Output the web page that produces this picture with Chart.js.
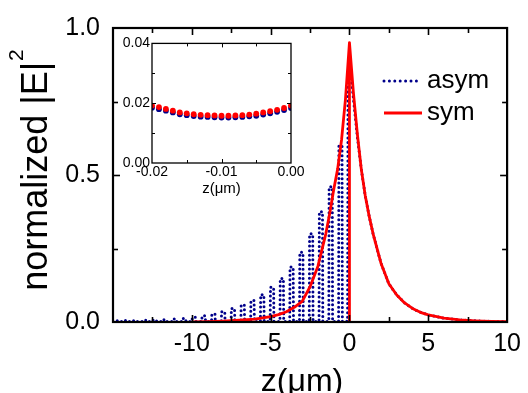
<!DOCTYPE html>
<html>
<head>
<meta charset="utf-8">
<script src="https://cdn.jsdelivr.net/npm/chart.js@4/dist/chart.umd.min.js"></script>
<style>
html,body{margin:0;padding:0;background:#fff;}
#wrap{position:relative;width:528px;height:393px;overflow:hidden;}
#main{position:absolute;left:0;top:0;}
#inset{position:absolute;left:110px;top:33px;}
</style>
</head>
<body>
<div id="wrap">
<canvas id="main" width="528" height="393"></canvas>
<canvas id="inset" width="205" height="165"></canvas>
</div>
<script>
// ---- main chart data ----
const symZ = [-10, -9, -8, -7, -6, -5, -4.5, -4, -3.5, -3, -2.5, -2, -1.5, -1.25, -1, -0.75, -0.5, -0.25, 0, 0, 0,
  0.25, 0.5, 0.75, 1, 1.25, 1.5, 2, 2.5, 3, 3.5, 4, 4.5, 5, 6, 7, 8, 9, 10];
const symV = [0.0, 0.001, 0.003, 0.006, 0.01, 0.018, 0.025, 0.035, 0.05, 0.07, 0.12, 0.19, 0.30, 0.37, 0.45, 0.52, 0.62, 0.76, 0.95, 0.0, 0.95,
  0.78, 0.64, 0.52, 0.43, 0.36, 0.30, 0.20, 0.13, 0.092, 0.065, 0.046, 0.033, 0.024, 0.013, 0.007, 0.004, 0.002, 0.001];

const asymZ = [-15,
  -14.95, -14.93, -14.73, -14.71,  -14.33, -14.31, -14.11, -14.09,
  -13.71, -13.69, -13.49, -13.47,  -13.09, -13.07, -12.87, -12.85,
  -12.47, -12.45, -12.25, -12.23,  -11.85, -11.83, -11.63, -11.61,
  -11.23, -11.21, -11.01, -10.99,  -10.61, -10.59, -10.39, -10.37,
  -9.99, -9.97, -9.77, -9.75,      -9.37, -9.35, -9.15, -9.13,
  -8.75, -8.73, -8.53, -8.51,      -8.13, -8.11, -7.91, -7.89,
  -7.51, -7.49, -7.29, -7.27,      -6.89, -6.87, -6.67, -6.65,
  -6.27, -6.25, -6.05, -6.03,      -5.65, -5.63, -5.43, -5.41,
  -5.03, -5.01, -4.81, -4.79,      -4.41, -4.39, -4.19, -4.17,
  -3.79, -3.77, -3.57, -3.55,      -3.17, -3.15, -2.95, -2.93,
  -2.55, -2.53, -2.33, -2.31,      -1.93, -1.91, -1.71, -1.69,
  -1.31, -1.29, -1.09, -1.07,      -0.69, -0.67, -0.47, -0.45,
  -0.12, -0.09, 0.06, 0.25, 0.5, 0.75, 1, 1.25, 1.5, 2, 2.5, 3, 3.5, 4, 4.5, 5, 6, 7, 8, 9, 10];
const asymV = [0.002,
  0.002, 0.004, 0.004, 0.002,  0.002, 0.005, 0.005, 0.002,
  0.002, 0.005, 0.005, 0.002,  0.002, 0.006, 0.006, 0.002,
  0.002, 0.007, 0.007, 0.002,  0.002, 0.008, 0.008, 0.002,
  0.002, 0.010, 0.010, 0.002,  0.002, 0.012, 0.012, 0.002,
  0.002, 0.016, 0.016, 0.002,  0.002, 0.021, 0.021, 0.002,
  0.002, 0.027, 0.027, 0.002,  0.002, 0.035, 0.035, 0.002,
  0.002, 0.046, 0.046, 0.002,  0.002, 0.058, 0.058, 0.002,
  0.002, 0.073, 0.073, 0.002,  0.002, 0.093, 0.093, 0.002,
  0.002, 0.118, 0.118, 0.002,  0.002, 0.148, 0.148, 0.002,
  0.002, 0.187, 0.187, 0.002,  0.002, 0.237, 0.237, 0.002,
  0.002, 0.300, 0.300, 0.002,  0.002, 0.375, 0.375, 0.002,
  0.002, 0.460, 0.460, 0.002,  0.002, 0.600, 0.600, 0.002,
  0.003, 0.80, 0.86, 0.76, 0.63, 0.52, 0.43, 0.36, 0.30, 0.20, 0.13, 0.092, 0.065, 0.046, 0.033, 0.024, 0.013, 0.007, 0.004, 0.002, 0.001];

const xLabelVals = [-10, -5, 0, 5, 10];
const xTickVals = [-12.5, -10, -7.5, -5, -2.5, 0, 2.5, 5, 7.5];
const yTickVals = [0.25, 0.5, 0.75];

// ---- inset data ----
const insetZ = [-0.020, -0.019, -0.018, -0.017, -0.016, -0.015, -0.014, -0.013, -0.012, -0.011, -0.010,
  -0.009, -0.008, -0.007, -0.006, -0.005, -0.004, -0.003, -0.002, -0.001, 0.000];
const insetSym = [0.0192, 0.0187, 0.0181, 0.0175, 0.0169, 0.0166, 0.0163, 0.0161, 0.0160, 0.0159, 0.0158,
  0.0158, 0.0159, 0.0160, 0.0162, 0.0165, 0.0169, 0.0173, 0.0178, 0.0184, 0.0192];
const insetAsym = [0.0185, 0.0180, 0.0175, 0.0169, 0.0163, 0.0160, 0.0157, 0.0155, 0.0154, 0.0153, 0.0152,
  0.0152, 0.0153, 0.0154, 0.0156, 0.0158, 0.0162, 0.0166, 0.0171, 0.0177, 0.0184];
const insetXLabels = [-0.02, -0.01, 0.0];
const insetXTicks = [-0.015, -0.01, -0.005];
const insetYTicks = [0.01, 0.02, 0.03];

const FONT = '"Liberation Sans", Arial, sans-serif';
const NAVY = '#00008b';
const RED = '#ff0000';

const pts = (zs, vs) => zs.map((z, i) => ({x: z, y: vs[i]}));

const framePlugin = {
  id: 'frame',
  afterDraw(chart, args, o) {
    const {ctx, chartArea: a, scales} = chart;
    ctx.save();
    ctx.strokeStyle = '#000';
    ctx.lineCap = 'butt';
    ctx.lineWidth = o.tickW;
    const seg = (x1, y1, x2, y2) => { ctx.beginPath(); ctx.moveTo(x1, y1); ctx.lineTo(x2, y2); ctx.stroke(); };
    o.xTicks.forEach(v => {
      const px = Math.round(scales.x.getPixelForValue(v)) + 0.5;
      const L = o.isMajorX(v) ? o.major : o.minor;
      seg(px, a.bottom, px, a.bottom - L);
      seg(px, a.top, px, a.top + L);
    });
    o.yTicks.forEach(v => {
      const py = Math.round(scales.y.getPixelForValue(v)) + 0.5;
      const L = o.isMajorY(v) ? o.major : o.minor;
      seg(a.left, py, a.left + L, py);
      seg(a.right, py, a.right - L, py);
    });
    ctx.lineWidth = o.lw;
    ctx.strokeRect(a.left, a.top, a.right - a.left, a.bottom - a.top);
    ctx.restore();
    if (o.extra) o.extra(chart);
  }
};

function drawMainExtras(chart) {
  const ctx = chart.ctx;
  ctx.save();
  ctx.fillStyle = '#000';
  // legend
  ctx.lineWidth = 3;
  ctx.strokeStyle = NAVY;
  ctx.lineCap = 'round';
  ctx.setLineDash([0, 5.4]);
  ctx.beginPath(); ctx.moveTo(384, 81); ctx.lineTo(420, 81); ctx.stroke();
  ctx.setLineDash([]);
  ctx.lineCap = 'butt';
  ctx.strokeStyle = RED;
  ctx.lineWidth = 2.8;
  ctx.beginPath(); ctx.moveTo(384, 113); ctx.lineTo(422, 113); ctx.stroke();
  ctx.font = '26px ' + FONT;
  ctx.textAlign = 'left';
  ctx.textBaseline = 'alphabetic';
  ctx.fillText(chart.data.datasets[1].label, 427, 88);
  ctx.fillText(chart.data.datasets[0].label, 427, 120);
  // x title
  ctx.font = '32px ' + FONT;
  ctx.textAlign = 'center';
  ctx.fillText('z(\u03bcm)', 302, 391);
  // y title
  ctx.translate(47, 170);
  ctx.rotate(-Math.PI / 2);
  ctx.font = '36px ' + FONT;
  const t1 = 'normalized |E|';
  const w1 = ctx.measureText(t1).width;
  ctx.font = '21px ' + FONT;
  const w2 = ctx.measureText('2').width;
  const start = -(w1 + w2 + 1) / 2;
  ctx.textAlign = 'left';
  ctx.font = '36px ' + FONT;
  ctx.fillText(t1, start, 0);
  ctx.font = '21px ' + FONT;
  ctx.fillText('2', start + w1 + 1, -24);
  ctx.restore();
}

function drawInsetExtras(chart) {
  const ctx = chart.ctx;
  ctx.save();
  ctx.fillStyle = '#000';
  ctx.font = '15px ' + FONT;
  ctx.textAlign = 'center';
  ctx.textBaseline = 'alphabetic';
  const a = chart.chartArea;
  ctx.fillText('z(\u03bcm)', (a.left + a.right) / 2, 160);
  ctx.restore();
}

new Chart(document.getElementById('main'), {
  type: 'scatter',
  data: {
    datasets: [
      {label: 'sym', data: pts(symZ, symV), showLine: true, borderColor: RED, borderWidth: 2.8,
       pointRadius: 0, tension: 0, borderJoinStyle: 'round'},
      {label: 'asym', data: pts(asymZ, asymV), showLine: true, borderColor: NAVY, borderWidth: 3,
       borderDash: [0, 4.6], borderCapStyle: 'round', pointRadius: 0, tension: 0}
    ]
  },
  options: {
    responsive: false, animation: false, events: [],
    layout: {padding: {top: 18, right: 20, left: 0, bottom: 0}},
    plugins: {
      legend: {display: false}, tooltip: {enabled: false},
      frame: {
        xTicks: xTickVals, yTicks: yTickVals, lw: 2.2, tickW: 1.6, major: 7, minor: 5,
        isMajorX: v => v % 5 === 0, isMajorY: v => v % 0.5 === 0, extra: drawMainExtras
      }
    },
    scales: {
      x: {
        type: 'linear', min: -15, max: 10,
        grid: {display: false, drawTicks: false, tickLength: 0}, border: {display: false},
        ticks: {stepSize: 5, padding: 7, color: '#000', maxRotation: 0, autoSkip: false,
                font: {family: FONT, size: 25},
                callback: v => xLabelVals.includes(v) ? String(v) : ''},
        afterFit: s => { s.height = 71; }
      },
      y: {
        type: 'linear', min: 0, max: 1,
        grid: {display: false, drawTicks: false, tickLength: 0}, border: {display: false},
        ticks: {stepSize: 0.5, padding: 13, color: '#000', autoSkip: false,
                font: {family: FONT, size: 25},
                callback: v => v.toFixed(1)},
        afterFit: s => { s.width = 113; }
      }
    }
  },
  plugins: [framePlugin]
});

new Chart(document.getElementById('inset'), {
  type: 'scatter',
  data: {
    datasets: [
      {label: 'sym', data: pts(insetZ, insetSym), backgroundColor: RED, borderWidth: 0, pointRadius: 2.9},
      {label: 'asym', data: pts(insetZ, insetAsym), backgroundColor: NAVY, borderWidth: 0, pointRadius: 2.9}
    ]
  },
  options: {
    responsive: false, animation: false, events: [],
    layout: {padding: {top: 8, right: 24, left: 0, bottom: 0}},
    plugins: {
      legend: {display: false}, tooltip: {enabled: false},
      frame: {
        xTicks: insetXTicks, yTicks: insetYTicks, lw: 1.3, tickW: 1, major: 4, minor: 3,
        isMajorX: v => Math.abs(v + 0.01) < 1e-9, isMajorY: v => Math.abs(v - 0.02) < 1e-9, extra: drawInsetExtras
      }
    },
    scales: {
      x: {
        type: 'linear', min: -0.02, max: 0,
        grid: {display: false, drawTicks: false, tickLength: 0}, border: {display: false},
        ticks: {stepSize: 0.01, padding: 1, color: '#000', maxRotation: 0, autoSkip: false,
                font: {family: FONT, size: 14},
                callback: v => insetXLabels.some(l => Math.abs(l - v) < 1e-9) ? v.toFixed(2) : ''},
        afterFit: s => { s.height = 35; }
      },
      y: {
        type: 'linear', min: 0, max: 0.04,
        grid: {display: false, drawTicks: false, tickLength: 0}, border: {display: false},
        ticks: {stepSize: 0.02, padding: 2, color: '#000', autoSkip: false,
                font: {family: FONT, size: 14},
                callback: v => v.toFixed(2)},
        afterFit: s => { s.width = 42; }
      }
    }
  },
  plugins: [framePlugin]
});
</script>
</body>
</html>
